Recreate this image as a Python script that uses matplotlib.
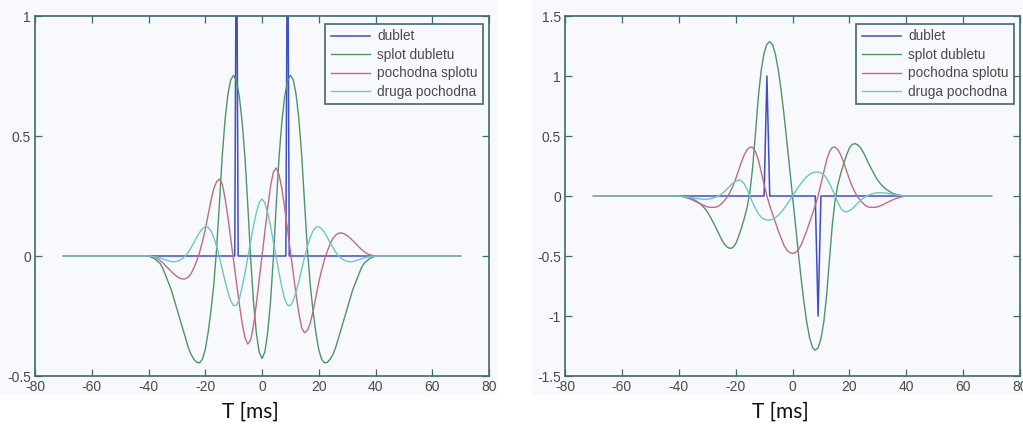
import matplotlib
matplotlib.use('Agg')
import matplotlib.pyplot as plt
from matplotlib.patches import Rectangle
from matplotlib.ticker import FuncFormatter

plt.rcParams['axes.unicode_minus'] = False
plt.rcParams['font.family'] = 'Liberation Sans'

# Time axis [ms]
# --------------
t = [-70] + list(range(-40, 41)) + [70]

# Left panel: dublet with two positive spikes
t_dub_l = [-40, -9.6, -9.0, -8.4, 8.4, 9.0, 9.6, 40]
dub_l = [0, 0, 1.6, 0, 0, 1.6, 0, 0]

splot_l = [0.0,
    0.0, -0.005, -0.01, -0.02, -0.03, -0.05, -0.08, -0.11, -0.14, -0.18,
    -0.22, -0.26, -0.30, -0.34, -0.38, -0.41, -0.43, -0.443, -0.445, -0.43,
    -0.39, -0.32, -0.23, -0.12, 0.03, 0.22, 0.42, 0.57, 0.675, 0.735,
    0.753, 0.73, 0.665, 0.56, 0.41, 0.21, -0.01, -0.19, -0.32, -0.40,
    -0.427,
    -0.40, -0.32, -0.19, -0.01, 0.21, 0.41, 0.56, 0.665, 0.73, 0.753,
    0.735, 0.675, 0.57, 0.42, 0.22, 0.03, -0.12, -0.23, -0.32, -0.39,
    -0.43, -0.445, -0.443, -0.43, -0.41, -0.38, -0.34, -0.30, -0.26, -0.22,
    -0.18, -0.14, -0.11, -0.08, -0.05, -0.03, -0.02, -0.01, -0.005, 0.0,
    0.0]

poch_l = [0.0,
    0.0, -0.002, -0.005, -0.01, -0.018, -0.028, -0.04, -0.052, -0.064, -0.075,
    -0.085, -0.092, -0.096, -0.095, -0.088, -0.073, -0.05, -0.02, 0.015, 0.06,
    0.11, 0.17, 0.23, 0.28, 0.31, 0.32, 0.30, 0.24, 0.16, 0.07,
    -0.02, -0.11, -0.20, -0.28, -0.34, -0.367, -0.35, -0.29, -0.20, -0.10,
    0.0,
    0.10, 0.20, 0.29, 0.35, 0.367, 0.34, 0.28, 0.20, 0.11, 0.02,
    -0.07, -0.16, -0.24, -0.30, -0.32, -0.31, -0.28, -0.23, -0.17, -0.11,
    -0.06, -0.015, 0.02, 0.05, 0.073, 0.088, 0.095, 0.096, 0.092, 0.085,
    0.075, 0.064, 0.052, 0.04, 0.028, 0.018, 0.01, 0.005, 0.002, 0.0,
    0.0]

druga_l = [0.0,
    0.0, -0.001, -0.003, -0.005, -0.008, -0.012, -0.016, -0.02, -0.023, -0.024,
    -0.022, -0.018, -0.01, 0.0, 0.015, 0.035, 0.055, 0.078, 0.098, 0.114,
    0.122, 0.12, 0.105, 0.078, 0.04, -0.005, -0.055, -0.105, -0.15, -0.187,
    -0.207, -0.205, -0.18, -0.13, -0.07, -0.005, 0.06, 0.125, 0.18, 0.222,
    0.238,
    0.222, 0.18, 0.125, 0.06, -0.005, -0.07, -0.13, -0.18, -0.205, -0.207,
    -0.187, -0.15, -0.105, -0.055, -0.005, 0.04, 0.078, 0.105, 0.12, 0.122,
    0.114, 0.098, 0.078, 0.055, 0.035, 0.015, 0.0, -0.01, -0.018, -0.022,
    -0.024, -0.023, -0.02, -0.016, -0.012, -0.008, -0.005, -0.003, -0.001, 0.0,
    0.0]

# Right panel: dublet with positive and negative spike
t_dub_r = [-40, -10, -9, -8, 8, 9, 10, 40]
dub_r = [0, 0, 1, 0, 0, -1, 0, 0]

splot_r = [0.0,
    0.0, -0.002, -0.005, -0.01, -0.016, -0.025, -0.04, -0.055, -0.075, -0.10,
    -0.13, -0.17, -0.215, -0.26, -0.31, -0.36, -0.40, -0.425, -0.437, -0.43,
    -0.40, -0.34, -0.27, -0.19, -0.10, 0.03, 0.24, 0.53, 0.83, 1.05,
    1.19, 1.265, 1.286, 1.26, 1.18, 1.05, 0.88, 0.68, 0.46, 0.23,
    0.0,
    -0.23, -0.46, -0.68, -0.88, -1.05, -1.18, -1.26, -1.286, -1.265, -1.19,
    -1.05, -0.83, -0.53, -0.24, -0.03, 0.10, 0.19, 0.27, 0.34, 0.40,
    0.43, 0.437, 0.425, 0.40, 0.36, 0.31, 0.26, 0.215, 0.17, 0.13,
    0.10, 0.075, 0.055, 0.04, 0.025, 0.016, 0.01, 0.005, 0.002, 0.0,
    0.0]

poch_r = [0.0,
    0.0, -0.004, -0.009, -0.016, -0.025, -0.035, -0.046, -0.058, -0.07, -0.08,
    -0.09, -0.094, -0.095, -0.093, -0.085, -0.065, -0.04, -0.01, 0.03, 0.08,
    0.14, 0.21, 0.28, 0.34, 0.385, 0.407, 0.405, 0.37, 0.30, 0.20,
    0.10, 0.0, -0.08, -0.15, -0.22, -0.29, -0.35, -0.41, -0.45, -0.472,
    -0.478,
    -0.472, -0.45, -0.41, -0.35, -0.29, -0.22, -0.15, -0.08, 0.0, 0.10,
    0.20, 0.30, 0.37, 0.405, 0.407, 0.385, 0.34, 0.28, 0.21, 0.14,
    0.08, 0.03, -0.01, -0.04, -0.065, -0.085, -0.093, -0.095, -0.094, -0.09,
    -0.08, -0.07, -0.058, -0.046, -0.035, -0.025, -0.016, -0.009, -0.004, 0.0,
    0.0]

druga_r = [0.0,
    0.0, -0.002, -0.005, -0.008, -0.012, -0.016, -0.02, -0.023, -0.026, -0.027,
    -0.027, -0.024, -0.018, -0.009, 0.0, 0.016, 0.035, 0.058, 0.083, 0.106,
    0.123, 0.133, 0.128, 0.102, 0.055, 0.0, -0.055, -0.105, -0.148, -0.177,
    -0.193, -0.2, -0.2, -0.194, -0.18, -0.16, -0.135, -0.105, -0.072, -0.037,
    0.0,
    0.037, 0.072, 0.105, 0.135, 0.16, 0.18, 0.194, 0.2, 0.2, 0.193,
    0.177, 0.148, 0.105, 0.055, 0.0, -0.055, -0.102, -0.128, -0.133, -0.123,
    -0.106, -0.083, -0.058, -0.035, -0.016, 0.0, 0.009, 0.018, 0.024, 0.027,
    0.027, 0.026, 0.023, 0.02, 0.016, 0.012, 0.008, 0.005, 0.002, 0.0,
    0.0]

labels = ['dublet', 'splot dubletu', 'pochodna splotu', 'druga pochodna']
colors = ['#3f4fc2', '#4f9468', '#c26a82', '#6cc6c6']
xlabel = 'T [ms]'

# Figure
# ------
W, H = 1023, 425
fig = plt.figure(figsize=(W / 100, H / 100), dpi=100)
fig.patch.set_facecolor('white')

panel_bg = '#f8f9fc'
edge = '#3d6b70'

for x0, x1 in [(0, 497), (532, 1023)]:
    fig.patches.append(Rectangle((x0 / W, 30 / H), (x1 - x0) / W, 395 / H,
                                 transform=fig.transFigure, facecolor=panel_bg,
                                 edgecolor='none', zorder=-10))


def make_axes(left, right, top, bottom):
    return fig.add_axes([left / W, 1 - bottom / H, (right - left) / W,
                         (bottom - top) / H])


ax1 = make_axes(35, 489, 16, 376)
ax2 = make_axes(565, 1020, 16, 376)

panels = [
    (ax1, t_dub_l, dub_l, splot_l, poch_l, druga_l, (-0.5, 1), [-0.5, 0, 0.5, 1], 250),
    (ax2, t_dub_r, dub_r, splot_r, poch_r, druga_r, (-1.5, 1.5),
     [-1.5, -1, -0.5, 0, 0.5, 1, 1.5], 780),
]

for ax, td, dv, sp, pc, dr, ylim, yticks, lab_x in panels:
    ax.set_zorder(5)
    ax.set_facecolor(panel_bg)
    ax.plot(td, dv, color=colors[0], lw=1.1, label=labels[0])
    ax.plot(t, sp, color=colors[1], lw=1.0, label=labels[1])
    ax.plot(t, pc, color=colors[2], lw=1.0, label=labels[2])
    ax.plot(t, dr, color=colors[3], lw=1.0, label=labels[3])

    ax.set_xlim(-80, 80)
    ax.set_ylim(*ylim)
    ax.set_xticks(range(-80, 81, 20))
    ax.set_yticks(yticks)
    ax.yaxis.set_major_formatter(FuncFormatter(lambda v, p: f'{v:g}'))
    ax.tick_params(direction='in', top=True, right=True, length=5, width=0.9,
                   color=edge, labelsize=10, labelcolor='#4a4a4a', pad=3)
    for s in ax.spines.values():
        s.set_color(edge)
        s.set_linewidth(1.2)

    leg = ax.legend(loc='upper right', bbox_to_anchor=(0.987, 0.978),
                    borderaxespad=0, fancybox=False, fontsize=9.8,
                    handlelength=2.9, labelspacing=0.33, handletextpad=0.5,
                    borderpad=0.4, framealpha=1)
    leg.get_frame().set_edgecolor(edge)
    leg.get_frame().set_facecolor(panel_bg)
    leg.get_frame().set_linewidth(1.2)
    for txt in leg.get_texts():
        txt.set_color('#4a4a4a')

    fig.text(lab_x / W, 1 - 412 / H, xlabel, ha='center', va='center',
             fontsize=15, family='Lato', color='#111111')

fig.savefig('out.png', dpi=100)
